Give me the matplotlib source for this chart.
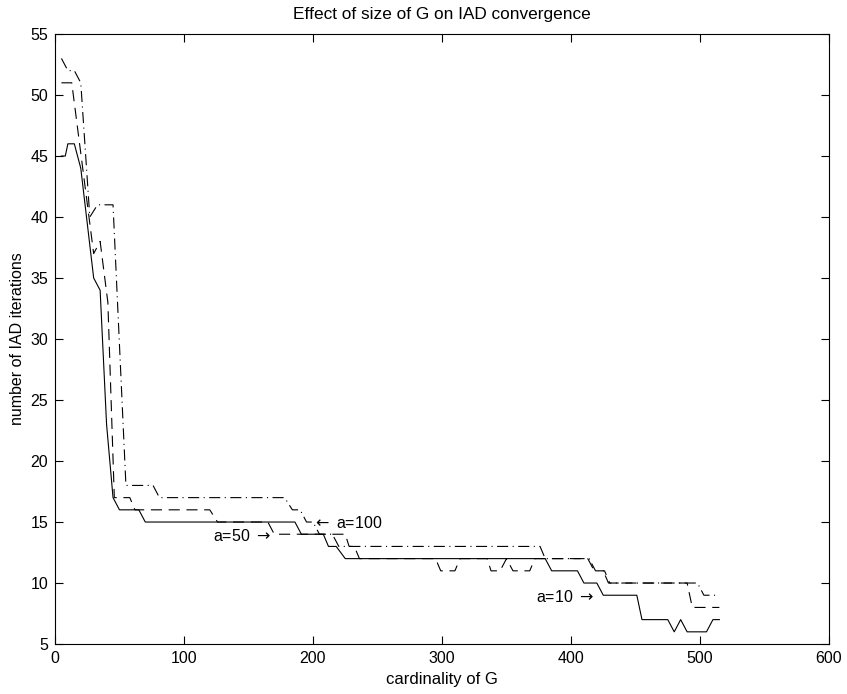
import matplotlib
matplotlib.use("Agg")
import matplotlib.pyplot as plt

# breakpoints: cardinality of G -> number of IAD iterations
x_a10 = [5, 8, 10, 15, 20, 30, 35, 40, 45, 50, 65, 70, 186, 191, 208, 212, 218, 225,
         380, 385, 405, 410, 420, 425, 451, 455, 475, 480, 485, 490, 505, 510, 515]
y_a10 = [45, 45, 46, 46, 44, 35, 34, 23, 17, 16, 16, 15, 15, 14, 14, 13, 13, 12,
         12, 11, 11, 10, 10, 9, 9, 7, 7, 6, 7, 6, 6, 7, 7]

x_a50 = [5, 13, 30, 35, 41, 46, 58, 62, 120, 126, 165, 170, 225, 228, 232, 236,
         295, 299, 310, 314, 335, 338, 345, 350, 355, 368, 372, 413, 418, 426, 430,
         490, 494, 515]
y_a50 = [51, 51, 37, 38, 33, 17, 17, 16, 16, 15, 15, 14, 14, 13, 13, 12,
         12, 11, 11, 12, 12, 11, 11, 12, 11, 11, 12, 12, 11, 11, 10,
         10, 8, 8]

x_a100 = [5, 10, 15, 20, 27, 33, 45, 55, 76, 81, 178, 184, 190, 195, 200, 205,
          215, 220, 376, 380, 414, 419, 425, 429, 498, 503, 515]
y_a100 = [53, 52, 52, 51, 40, 41, 41, 18, 18, 17, 17, 16, 16, 15, 15, 14,
          14, 13, 13, 12, 12, 11, 11, 10, 10, 9, 9]

xticks = [0, 100, 200, 300, 400, 500, 600]
yticks = [5, 10, 15, 20, 25, 30, 35, 40, 45, 50, 55]

plt.rcParams['font.family'] = ['Liberation Sans', 'DejaVu Sans']
plt.rcParams['font.size'] = 11.5
plt.rcParams['mathtext.fontset'] = 'dejavusans'

fig = plt.figure(figsize=(8.47, 6.94), dpi=100)
ax = fig.add_axes([0.0649, 0.072, 0.9139, 0.879])

ax.plot(x_a10, y_a10, color='black', lw=0.8, linestyle='-')
ax.plot(x_a50, y_a50, color='black', lw=0.8, linestyle=(0, (10, 6)))
ax.plot(x_a100, y_a100, color='black', lw=0.8, linestyle=(0, (10, 4, 1, 4)))

# labels as in the original figure
ax.text(122.5, 13.85, r'a=50 $\rightarrow$', ha='left', va='center')
ax.text(199, 14.9, r'$\leftarrow$ a=100', ha='left', va='center')
ax.text(373, 8.85, r'a=10 $\rightarrow$', ha='left', va='center')

ax.set_xlim(0, 600)
ax.set_ylim(5, 55)
ax.set_xticks(xticks)
ax.set_yticks(yticks)
ax.tick_params(direction='in', length=6, width=0.8, top=True, right=True, pad=5)
for s in ax.spines.values():
    s.set_linewidth(0.8)

ax.set_title('Effect of size of G on IAD convergence', pad=11, fontsize=12.4)
ax.set_xlabel('cardinality of G', labelpad=4, fontsize=12)
ax.set_ylabel('number of IAD iterations', labelpad=4)

fig.savefig('out.png', dpi=100)
